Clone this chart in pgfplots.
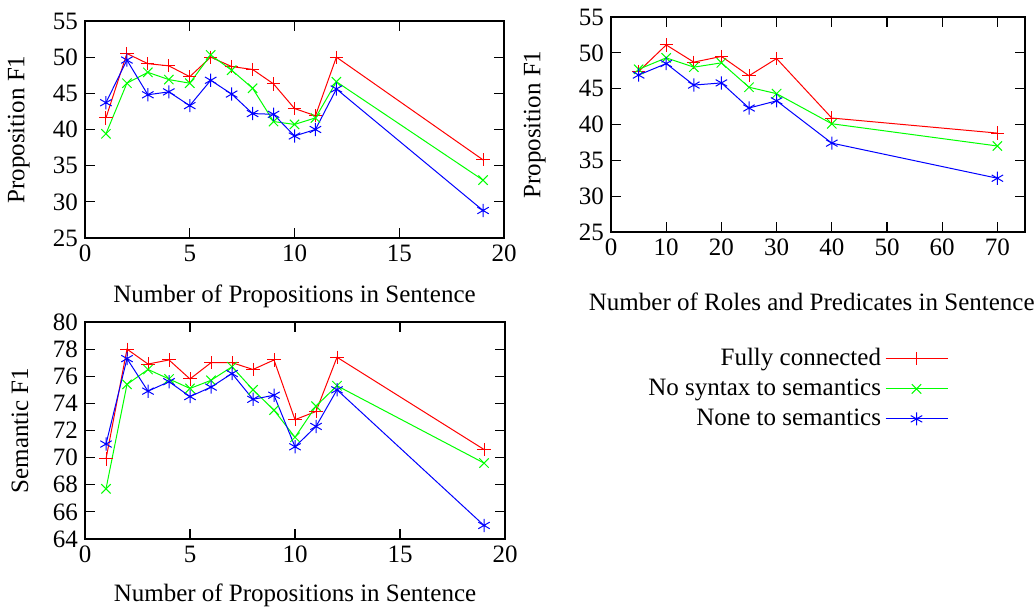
\documentclass[border=0pt]{standalone}
\usepackage{fontspec}
\setmainfont{Liberation Serif}
\usepackage{pgfplots}
\pgfplotsset{compat=1.18}

\definecolor{gpred}{rgb}{1,0,0}
\definecolor{gpgreen}{rgb}{0,1,0}
\definecolor{gpblue}{rgb}{0,0,1}

\pgfplotsset{
  gp/.style={
    scale only axis,
    anchor=south west,
    axis line style={line width=0.6pt},
    major tick length=5pt,
    tick style={line width=0.6pt, black},
    tick align=inside,
    font=\fontsize{12.5}{15}\selectfont,
    /pgf/number format/assume math mode=true,
    xtick pos=both, ytick pos=both,
    xticklabel pos=lower, yticklabel pos=left,
    legend image code/.code={
      \draw[mark repeat=2,mark phase=2] plot coordinates {(0pt,0pt) (15.5pt,0pt) (31pt,0pt)};
    },
  },
  sfull/.style={gpred, line width=0.5pt, mark=+, mark size=3.3pt, mark options={line width=0.5pt}},
  snosyn/.style={gpgreen, line width=0.5pt, mark=x, mark size=3.3pt, mark options={line width=0.5pt}},
  snone/.style={gpblue, line width=0.5pt, mark=asterisk, mark size=3.3pt, mark options={line width=0.5pt}},
}

\begin{document}
\begin{tikzpicture}
\path[use as bounding box] (0pt,0pt) rectangle (518pt,304pt);

% top left: proposition F1 by number of propositions
\begin{axis}[gp,
  at={(42.5pt,185pt)}, width=209.5pt, height=108.5pt,
  xmin=0, xmax=20, ymin=25, ymax=55,
  xtick={0,5,...,20}, ytick={25,30,...,55},
  xlabel={Number of Propositions in Sentence},
  ylabel={Proposition F1},
  xlabel style={at={(axis description cs:0.5,-0.267)}, anchor=center},
  ylabel style={at={(axis description cs:-0.158,0.5)}, anchor=center},
]
\addplot[sfull] coordinates {
  (1,41.6) (2,50.5) (3,49.1) (4,48.8) (5,47.3) (6,50.0) (7,48.7)
  (8,48.3) (9,46.3) (10,42.9) (11,41.9) (12,50.0) (19,35.8)
};
\addplot[snosyn] coordinates {
  (1,39.4) (2,46.4) (3,47.9) (4,46.9) (5,46.4) (6,50.3) (7,48.2)
  (8,45.7) (9,41.1) (10,40.7) (11,41.6) (12,46.6) (19,33.0)
};
\addplot[snone] coordinates {
  (1,43.7) (2,49.6) (3,44.8) (4,45.2) (5,43.3) (6,46.8) (7,44.9)
  (8,42.2) (9,42.1) (10,39.1) (11,40.0) (12,45.6) (19,28.8)
};
\end{axis}

% top right: proposition F1 by number of roles and predicates
\begin{axis}[gp,
  at={(305.5pt,188pt)}, width=207pt, height=107.5pt,
  xmin=0, xmax=75, ymin=25, ymax=55,
  xtick={0,10,...,70}, ytick={25,30,...,55},
  xlabel={Number of Roles and Predicates in Sentence},
  ylabel={Proposition F1},
  xlabel style={at={(axis description cs:0.485,-0.326)}, anchor=center},
  ylabel style={at={(axis description cs:-0.184,0.5)}, anchor=center},
]
\addplot[sfull] coordinates {
  (5,47.4) (10,51.1) (15,48.7) (20,49.5) (25,46.8) (30,49.2) (40,40.9) (70,38.8)
};
\addplot[snosyn] coordinates {
  (5,47.7) (10,49.3) (15,48.0) (20,48.6) (25,45.2) (30,44.3) (40,40.1) (70,37.0)
};
\addplot[snone] coordinates {
  (5,46.9) (10,48.5) (15,45.5) (20,45.8) (25,42.3) (30,43.3) (40,37.4) (70,32.5)
};
\end{axis}

% bottom left: semantic F1 by number of propositions
\begin{axis}[gp,
  at={(42.5pt,34.5pt)}, width=210pt, height=108.5pt,
  xmin=0, xmax=20, ymin=64, ymax=80,
  xtick={0,5,...,20}, ytick={64,66,...,80},
  xlabel={Number of Propositions in Sentence},
  ylabel={Semantic F1},
  xlabel style={at={(axis description cs:0.5,-0.258)}, anchor=center},
  ylabel style={at={(axis description cs:-0.155,0.5)}, anchor=center},
  legend style={draw=none, fill=none, at={(axis description cs:2.07,0.917)},
    anchor=north east, row sep=1.2pt,
    font=\fontsize{12.5}{15}\selectfont},
  legend cell align=right, legend plot pos=right,
]
\addplot[sfull] coordinates {
  (1,69.9) (2,78.0) (3,76.9) (4,77.2) (5,75.8) (6,77.0) (7,77.0)
  (8,76.5) (9,77.2) (10,72.8) (11,73.4) (12,77.4) (19,70.6)
};
\addlegendentry{Fully connected}
\addplot[snosyn] coordinates {
  (1,67.7) (2,75.4) (3,76.5) (4,75.8) (5,75.1) (6,75.7) (7,76.7)
  (8,75.0) (9,73.5) (10,71.5) (11,73.8) (12,75.3) (19,69.6)
};
\addlegendentry{No syntax to semantics}
\addplot[snone] coordinates {
  (1,71.0) (2,77.3) (3,74.9) (4,75.6) (5,74.5) (6,75.2) (7,76.2)
  (8,74.3) (9,74.6) (10,70.8) (11,72.3) (12,75.0) (19,65.0)
};
\addlegendentry{None to semantics}
\end{axis}
\end{tikzpicture}
\end{document}
